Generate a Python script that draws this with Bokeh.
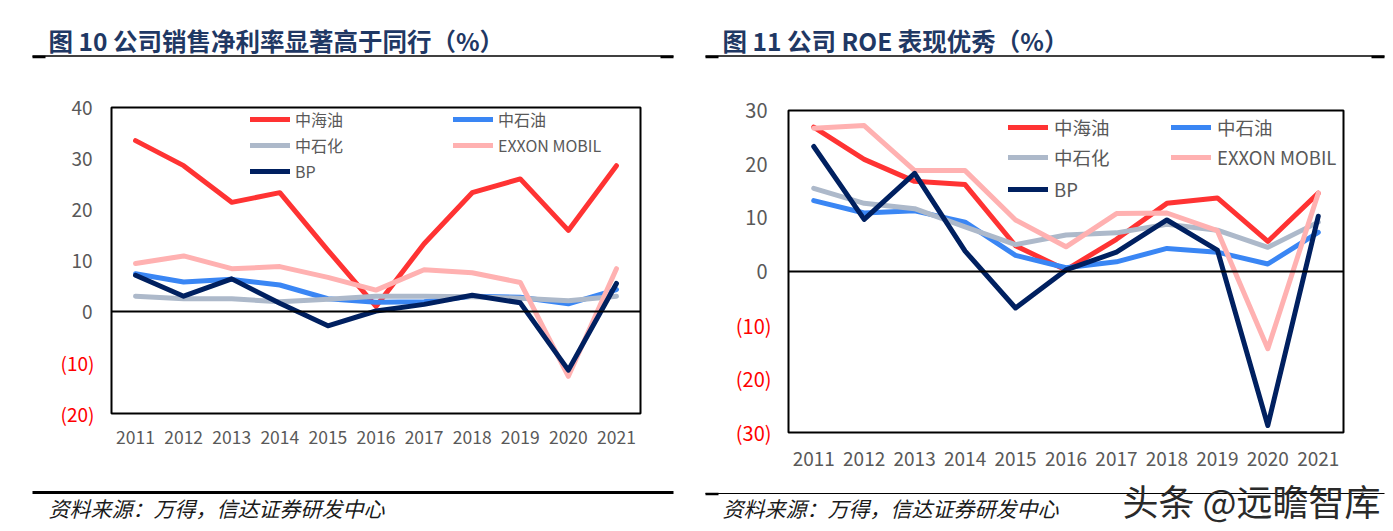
from bokeh.plotting import figure
from bokeh.layouts import row, column
from bokeh.models import (FactorRange, Range1d, FixedTicker, Span, Legend, LegendItem,
                          LinearAxis)
from bokeh.core.properties import value
from bokeh.embed import file_html
from bokeh.resources import INLINE

# ---------------- data ----------------
years = ["2011", "2012", "2013", "2014", "2015", "2016", "2017", "2018", "2019", "2020", "2021"]
series_names = ["中海油", "中石油", "中石化", "EXXON MOBIL", "BP"]

# Fig 10: net profit margin (%)
npm_cnooc = [33.5, 28.6, 21.4, 23.3, 12.0, 1.0, 13.3, 23.3, 26.0, 15.9, 28.6]
npm_petrochina = [7.4, 5.8, 6.3, 5.2, 2.5, 1.8, 1.9, 3.0, 2.8, 1.5, 4.3]
npm_sinopec = [3.0, 2.5, 2.5, 1.9, 2.4, 3.0, 3.0, 2.9, 2.6, 2.1, 3.0]
npm_exxon = [9.4, 10.9, 8.4, 8.8, 6.7, 4.2, 8.2, 7.6, 5.7, -12.7, 8.4]
npm_bp = [7.1, 3.0, 6.4, 1.6, -2.8, 0.1, 1.4, 3.2, 1.7, -11.5, 5.5]

# Fig 11: ROE (%)
roe_cnooc = [26.9, 20.9, 16.8, 16.2, 4.8, 0.3, 6.0, 12.7, 13.7, 5.6, 14.6]
roe_petrochina = [13.2, 10.9, 11.3, 9.2, 3.0, 0.7, 1.8, 4.3, 3.6, 1.4, 7.3]
roe_sinopec = [15.5, 12.7, 11.7, 8.3, 5.0, 6.8, 7.2, 8.8, 7.7, 4.5, 9.2]
roe_exxon = [26.7, 27.2, 18.8, 18.8, 9.6, 4.6, 10.8, 10.9, 7.6, -14.4, 14.6]
roe_bp = [23.3, 9.7, 18.3, 3.8, -6.8, 0.3, 3.6, 9.6, 4.0, -28.7, 10.3]

npm_pos_ticks = [0, 10, 20, 30, 40]
npm_neg_ticks = [-10, -20]
roe_pos_ticks = [0, 10, 20, 30]
roe_neg_ticks = [-10, -20, -30]

title_left = "图 10  公司销售净利率显著高于同行（%）"
title_right = "图 11  公司 ROE 表现优秀（%）"
source_text = "资料来源：万得，信达证券研发中心"
watermark_text = "头条 @远瞻智库"

# ---------------- style ----------------
colors = ["#FF3333", "#3A86F4", "#ADB9CA", "#FFB1B1", "#002060"]
NUMF = "'Noto Sans CJK SC', sans-serif"
CJK = "'Noto Sans CJK SC', sans-serif"
TICK_GRAY = "#595959"
TITLE_COLOR = "#1F3864"
PAGE_W, PAGE_H = 1393, 531
HEAD_H = 75
LEFT_W = 690


def deco_figure(x0, width, y_top, height):
    """A frame-only figure used for headings / footers, in page pixel coordinates."""
    f = figure(width=width, height=height, x_range=Range1d(x0, x0 + width),
               y_range=Range1d(y_top + height, y_top), output_backend="svg",
               toolbar_location=None, x_axis_type=None, y_axis_type=None,
               min_border=0, frame_align=False)
    f.outline_line_color = None
    f.xgrid.visible = False
    f.ygrid.visible = False
    return f


def style_axis(ax, standoff, font_size, color):
    ax.axis_line_color = None
    ax.major_tick_line_color = None
    ax.major_tick_out = 0
    ax.major_tick_in = 0
    ax.minor_tick_line_color = None
    ax.minor_tick_out = 0
    ax.major_label_standoff = standoff
    ax.major_label_text_font = NUMF
    ax.major_label_text_font_size = font_size
    ax.major_label_text_color = color


def make_chart(spec):
    x0, width = spec["x0"], spec["width"]
    mid_top, mid_bot = HEAD_H, spec["foot_top"]
    FL, FT, FR, FB = spec["frame"]
    p = figure(width=width, height=mid_bot - mid_top, x_range=FactorRange(*years),
               y_range=Range1d(*spec["yrange"]), output_backend="svg",
               toolbar_location=None, frame_align=False,
               min_border_left=FL - x0, min_border_right=x0 + width - FR,
               min_border_top=FT - mid_top, min_border_bottom=mid_bot - FB)
    p.outline_line_color = "black"
    p.outline_line_width = 2
    p.xgrid.visible = False
    p.ygrid.visible = False

    style_axis(p.xaxis[0], spec["xstandoff"], spec["tick_fs"], TICK_GRAY)

    # positive tick labels (grey) on the inner axis
    ya = p.yaxis[0]
    ya.ticker = FixedTicker(ticks=spec["pos_ticks"])
    style_axis(ya, spec["ystandoff"], spec["ytick_fs"], TICK_GRAY)
    # negative tick labels (red, in parentheses) on an outer axis pulled back in line
    neg_axis = LinearAxis(ticker=FixedTicker(ticks=spec["neg_ticks"]),
                          major_label_overrides={t: "(%d)" % abs(t) for t in spec["neg_ticks"]})
    style_axis(neg_axis, spec["neg_standoff"], spec["ytick_fs"], "#FF0000")
    p.add_layout(neg_axis, "left")

    p.add_layout(Span(location=0, dimension="width", line_color="black", line_width=2))

    renderers = []
    for vals, c in zip(spec["series"], colors):
        r = p.line(x=years, y=vals, line_color=c, line_width=spec["lw"],
                   line_join="round", line_cap="round")
        renderers.append(r)

    gh = spec["legend_gh"]
    for (name, r), (lx, ly) in zip(zip(series_names, renderers), spec["legend_pos"]):
        leg = Legend(items=[LegendItem(label=name, renderers=[r])],
                     location=(lx - FL, FB - ly - gh / 2),
                     border_line_color=None, background_fill_alpha=0,
                     padding=0, margin=0, spacing=0,
                     glyph_width=spec["legend_gw"], glyph_height=gh,
                     label_height=gh, label_standoff=spec["legend_standoff"],
                     label_text_font=NUMF, label_text_font_size=spec["legend_fs"],
                     label_text_color=TICK_GRAY, label_text_baseline="middle")
        p.add_layout(leg)
    return p


left_spec = dict(
    x0=0, width=LEFT_W, foot_top=476, frame=(111, 107, 640, 413), yrange=(-20, 40),
    pos_ticks=npm_pos_ticks, neg_ticks=npm_neg_ticks,
    series=[npm_cnooc, npm_petrochina, npm_sinopec, npm_exxon, npm_bp],
    xstandoff=17, ystandoff=19, neg_standoff=-26, tick_fs="17.5px", ytick_fs="19px", lw=5,
    legend_pos=[(250, 121), (453, 121), (250, 147), (453, 147), (250, 173)],
    legend_gw=40, legend_gh=20, legend_standoff=5, legend_fs="16px",
)
right_spec = dict(
    x0=LEFT_W, width=PAGE_W - LEFT_W, foot_top=473, frame=(788, 110, 1343, 432),
    yrange=(-30, 30),
    pos_ticks=roe_pos_ticks, neg_ticks=roe_neg_ticks,
    series=[roe_cnooc, roe_petrochina, roe_sinopec, roe_exxon, roe_bp],
    xstandoff=19, ystandoff=21, neg_standoff=-29, tick_fs="19px", ytick_fs="20px", lw=5,
    legend_pos=[(1008, 128), (1171, 128), (1008, 158), (1171, 158), (1008, 190)],
    legend_gw=40, legend_gh=24, legend_standoff=6, legend_fs="18.5px",
)

p1 = make_chart(left_spec)
p2 = make_chart(right_spec)

# ---------------- heading strips ----------------
head_l = deco_figure(0, LEFT_W, 0, HEAD_H)
head_r = deco_figure(LEFT_W, PAGE_W - LEFT_W, 0, HEAD_H)
for h, tx, title, (ax0, ax1) in ((head_l, 48, title_left, (32, 673)),
                                 (head_r, 722, title_right, (705, 1384))):
    h.text(x=[tx], y=[40], text=[title], text_font=value(CJK), text_font_style="bold",
           text_font_size="24.5px", text_color=TITLE_COLOR, text_baseline="middle")
    h.segment(x0=[ax0], y0=[55.5], x1=[ax1], y1=[55.5], line_color="black", line_width=1.5)
    h.segment(x0=[ax0, ax1 - 13], y0=[56.5, 56.5], x1=[ax0 + 13, ax1], y1=[56.5, 56.5],
              line_color="black", line_width=2.5)

# ---------------- footer strips ----------------
foot_l = deco_figure(0, LEFT_W, left_spec["foot_top"], PAGE_H - left_spec["foot_top"])
foot_r = deco_figure(LEFT_W, PAGE_W - LEFT_W, right_spec["foot_top"],
                     PAGE_H - right_spec["foot_top"])
foot_l.segment(x0=[32], y0=[492], x1=[673], y1=[492], line_color="black", line_width=3)
foot_r.segment(x0=[705], y0=[493], x1=[1384], y1=[493], line_color="black", line_width=1.2)
foot_r.segment(x0=[705], y0=[493.5], x1=[718], y1=[493.5], line_color="black", line_width=2.5)
for f, tx in ((foot_l, 48), (foot_r, 722)):
    f.text(x=[tx], y=[507], text=[source_text], text_font=value(CJK),
           text_font_style="italic", text_font_size="21px", text_color="#1a1a1a",
           text_baseline="middle")
foot_r.text(x=[1122], y=[499], text=[watermark_text], text_font=value(CJK),
            text_font_size="36px", text_color="#2a2a2a", text_baseline="middle")

layout = row(column(head_l, p1, foot_l, spacing=0),
             column(head_r, p2, foot_r, spacing=0), spacing=0)
open("out.html", "w").write(file_html(layout, INLINE))
